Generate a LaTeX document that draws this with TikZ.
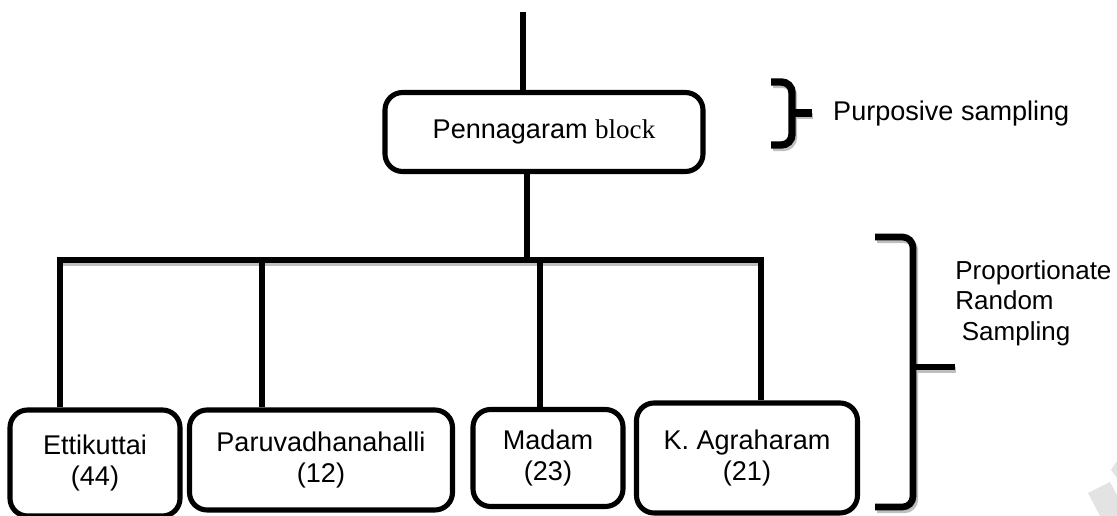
\documentclass[tikz,border=0pt]{standalone}
\usepackage{fontspec}
\setmainfont{Liberation Sans}
\newfontfamily\timesfont{Liberation Serif}

\begin{document}
\begin{tikzpicture}[x=0.02cm, y=-0.02cm, font=\fontsize{15.4}{17.5}\selectfont,
    box/.style={draw, line width=2.9pt, rounded corners=10pt, inner sep=0pt, align=center},
    link/.style={line width=3.7pt},
    brace/.style={line width=3.8pt, rounded corners=6pt},
    shade/.style={gray!50, line width=3.6pt, rounded corners=6pt}]

   \useasboundingbox (0,0) rectangle (1117,516);

   % watermark
   \fill[gray!22] (1088,493) -- (1110,482) -- (1117,495) -- (1117,516) -- (1100,516) -- cycle;
   \fill[gray!22] (1111,470) -- (1117,461) -- (1117,478) -- cycle;

   \node [box, minimum width=318*0.02cm, minimum height=79*0.02cm]
      (vpen) at (544,132) {Pennagaram {\timesfont block}};

   \foreach \t/\x/\y/\w/\h/\l in {ett/95/463/170/106/{Ettikuttai\\(44)},
         par/321/460/263/100/{Paruvadhanahalli\\(12)},
         mad/548/458/150/97/{Madam\\(23)},
         kag/747/458/221/110/{K. Agraharam\\(21)}}
     \node [box, minimum width=\w*0.02cm, minimum height=\h*0.02cm]
        (v\t) at (\x,\y) {\l};

   \coordinate (top) at (523,12);
   \coordinate (stem) at (527,260);
   \foreach [count=\i] \x in {60, 262, 540, 761}
     \coordinate (b\i) at (\x,260);

   % shadows
   \draw[shade] (62,263) -- (764,263);
   \draw[shade] (773,85) -- (794,85) -- (794,148) -- (773,148);
   \draw[shade] (794,116) -- (813,116);
   \draw[shade] (877,240) -- (915,240) -- (915,510) -- (877,510);
   \draw[shade] (915,370) -- (956,370);

   \draw[link] (top) -- (top |- vpen.north);
   \draw[link] (vpen.south -| stem) -- (stem);
   \draw[link] (vett.north -| b1) -- (b1) -- (b4) -- (vkag.north -| b4);
   \foreach \i/\t in {2/par, 3/mad}
      \draw[link] (b\i) -- (b\i |- v\t.north);

   % sampling braces
   \draw[brace, line width=4.2pt] (771,82) -- (792,82) -- (792,145) -- (771,145);
   \draw[brace, line width=4.2pt] (792,113) -- (812,113);
   \draw[brace] (875,237) -- (913,237) -- (913,507) -- (875,507);
   \draw[brace] (913,367) -- (955,367);

   \node [anchor=west] (purp) at (827,114) {Purposive sampling};
   \node [anchor=west, align=left, inner sep=0pt, font=\fontsize{14.8}{17.3}\selectfont]
      (prop) at (955,303) {Proportionate\\Random\\\hspace{0.25em}Sampling};

\end{tikzpicture}
\end{document}
